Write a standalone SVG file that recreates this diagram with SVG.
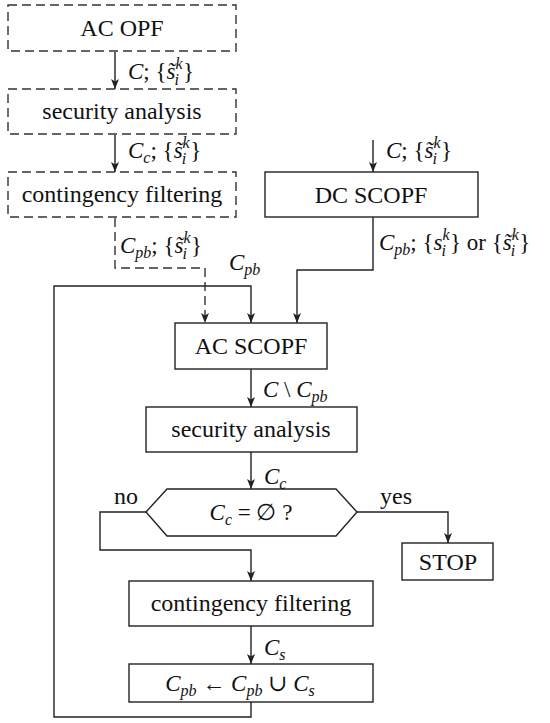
<svg xmlns="http://www.w3.org/2000/svg" width="550" height="723" viewBox="0 0 550 723">
<style>
.t{font-family:"Liberation Serif","DejaVu Serif",serif;font-size:24px;fill:#111;text-anchor:middle}
.m{font-family:"Liberation Serif","DejaVu Serif",serif;font-size:23px;fill:#111}
.i{font-style:italic}
.s{font-size:16px;font-style:italic}
.box{fill:#fff;stroke:#222;stroke-width:1.4}
.dbox{fill:none;stroke:#333;stroke-width:1.4;stroke-dasharray:9 5}
.ln{fill:none;stroke:#222;stroke-width:1.4}
.dl{fill:none;stroke:#333;stroke-width:1.4;stroke-dasharray:9 5}
</style>
<defs>
<marker id="ah" viewBox="0 0 10 10" refX="10" refY="5" markerWidth="10" markerHeight="10" markerUnits="userSpaceOnUse" orient="auto">
<path d="M0,1 L10,5 L0,9 L2.5,5 Z" fill="#222"/>
</marker>
</defs>
<g id="connectors">
<path class="ln" d="M115,52 V89" marker-end="url(#ah)"/>
<path class="ln" d="M115,135 V172" marker-end="url(#ah)"/>
<path class="dl" d="M115,218 V268 H205 V323" marker-end="url(#ah)"/>
<path class="ln" d="M373,140 V172" marker-end="url(#ah)"/>
<path class="ln" d="M373,217 V270 H297 V323" marker-end="url(#ah)"/>
<path class="ln" d="M251,702 V717 H54 V286 H251 V323" marker-end="url(#ah)"/>
<path class="ln" d="M251,369 V407" marker-end="url(#ah)"/>
<path class="ln" d="M251,452 V489" marker-end="url(#ah)"/>
<path class="ln" d="M146,512 H100 V550 H251 V581" marker-end="url(#ah)"/>
<path class="ln" d="M357,512 H448 V543" marker-end="url(#ah)"/>
<path class="ln" d="M251,626 V664" marker-end="url(#ah)"/>
</g>
<g id="acopf"><rect class="dbox" x="8" y="5" width="228" height="46"/><text class="t" x="122" y="36">AC OPF</text></g>
<g id="sa1"><rect class="dbox" x="8" y="89" width="228" height="45"/><text class="t" x="122" y="119">security analysis</text></g>
<g id="cf1"><rect class="dbox" x="8" y="172" width="228" height="45"/><text class="t" x="122" y="202">contingency filtering</text></g>
<g id="dcscopf"><rect class="box" x="265" y="172" width="213" height="45"/><text class="t" x="371" y="203">DC SCOPF</text></g>
<g id="acscopf"><rect class="box" x="175" y="323" width="152" height="46"/><text class="t" x="251" y="354">AC SCOPF</text></g>
<g id="sa2"><rect class="box" x="146" y="407" width="211" height="45"/><text class="t" x="251" y="437">security analysis</text></g>
<g id="decision"><path class="box" d="M146,512 L167,489 H336 L357,512 L336,536 H167 Z"/>
<text class="m" x="251" y="520" text-anchor="middle"><tspan class="i">C</tspan><tspan class="s" dy="5">c</tspan><tspan dy="-5"> = ∅ ?</tspan></text></g>
<g id="stop"><rect class="box" x="402" y="543" width="91" height="37"/><text class="t" x="448" y="570">STOP</text></g>
<g id="cf2"><rect class="box" x="129" y="581" width="244" height="45"/><text class="t" x="251" y="611">contingency filtering</text></g>
<g id="update"><rect class="box" x="129" y="664" width="244" height="38"/>
<text class="m" x="240" y="691" text-anchor="middle"><tspan class="i">C</tspan><tspan class="s" dy="5">pb</tspan><tspan dy="-5"> ← </tspan><tspan class="i">C</tspan><tspan class="s" dy="5">pb</tspan><tspan dy="-5"> ∪ </tspan><tspan class="i">C</tspan><tspan class="s" dy="5">s</tspan></text></g>
<g id="labels">
<text class="m" x="128" y="79"><tspan class="i">C</tspan>; {<tspan class="i">s̃</tspan><tspan class="s" dy="-10">k</tspan><tspan class="s" dx="-8" dy="16">i</tspan><tspan dx="4" dy="-6">}</tspan></text>
<text class="m" x="128" y="158"><tspan class="i">C</tspan><tspan class="s" dy="5">c</tspan><tspan dy="-5">; {</tspan><tspan class="i">s̃</tspan><tspan class="s" dy="-10">k</tspan><tspan class="s" dx="-8" dy="16">i</tspan><tspan dx="4" dy="-6">}</tspan></text>
<text class="m" x="120" y="253"><tspan class="i">C</tspan><tspan class="s" dy="5">pb</tspan><tspan dy="-5">; {</tspan><tspan class="i">s̃</tspan><tspan class="s" dy="-10">k</tspan><tspan class="s" dx="-8" dy="16">i</tspan><tspan dx="4" dy="-6">}</tspan></text>
<text class="m" x="386" y="158"><tspan class="i">C</tspan>; {<tspan class="i">s̃</tspan><tspan class="s" dy="-10">k</tspan><tspan class="s" dx="-8" dy="16">i</tspan><tspan dx="4" dy="-6">}</tspan></text>
<text class="m" x="379" y="250"><tspan class="i">C</tspan><tspan class="s" dy="5">pb</tspan><tspan dy="-5">; {</tspan><tspan class="i">s</tspan><tspan class="s" dy="-10">k</tspan><tspan class="s" dx="-8" dy="16">i</tspan><tspan dx="4" dy="-6">} or {</tspan><tspan class="i">s̃</tspan><tspan class="s" dy="-10">k</tspan><tspan class="s" dx="-8" dy="16">i</tspan><tspan dx="4" dy="-6">}</tspan></text>
<text class="m" x="229" y="270"><tspan class="i">C</tspan><tspan class="s" dy="5">pb</tspan></text>
<text class="m" x="263" y="397"><tspan class="i">C</tspan> \ <tspan class="i">C</tspan><tspan class="s" dy="5">pb</tspan></text>
<text class="m" x="264" y="484"><tspan class="i">C</tspan><tspan class="s" dy="5">c</tspan></text>
<text class="m" x="264" y="655"><tspan class="i">C</tspan><tspan class="s" dy="5">s</tspan></text>
<text class="t" x="126" y="504">no</text>
<text class="t" x="396" y="504">yes</text>
</g>
</svg>
